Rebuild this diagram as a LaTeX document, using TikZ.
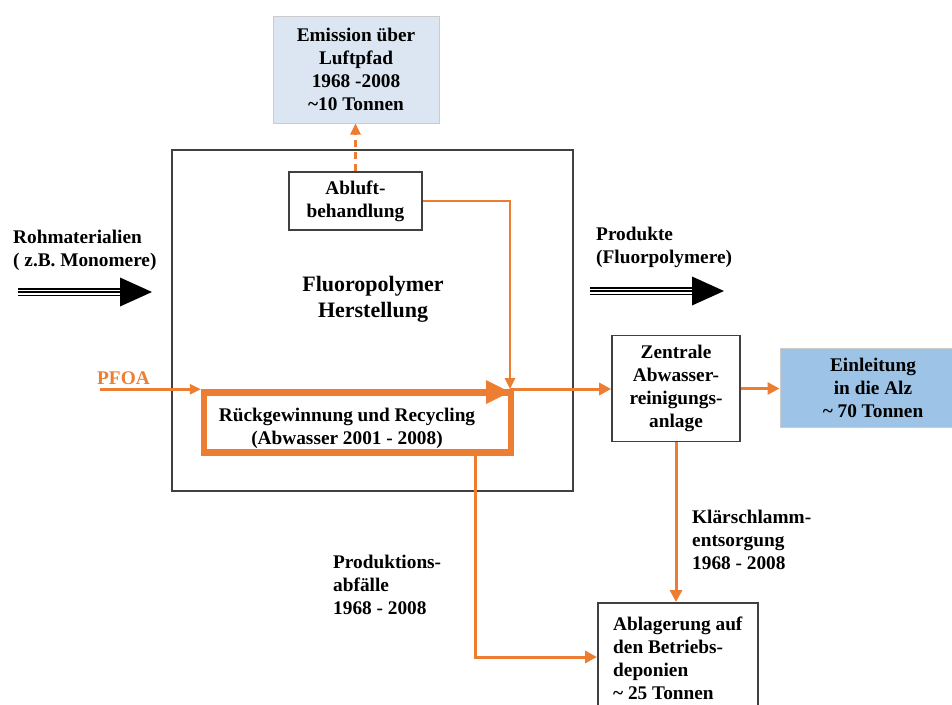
\documentclass[tikz,border=0pt]{standalone}
\usepackage{fontspec}
\setmainfont{Liberation Serif}
\usetikzlibrary{arrows.meta,calc}
\definecolor{oran}{HTML}{ED7D31}
\definecolor{lblue}{HTML}{DCE6F2}
\definecolor{mblue}{HTML}{9DC3E6}
\definecolor{bord}{HTML}{404040}
\tikzset{
  txt/.style={font=\fontsize{19.3}{23}\selectfont\bfseries, inner sep=0pt, align=center},
  bigtxt/.style={font=\fontsize{22}{26}\selectfont\bfseries, inner sep=0pt, align=center},
  box/.style={txt, draw=bord, line width=1.6pt, rectangle},
  lightbox/.style={txt, draw=gray!40, line width=1pt, rectangle},
  flow/.style={draw=oran, line width=3pt, -{Triangle[length=12pt,width=12pt]}},
  thinflow/.style={draw=oran, line width=2.5pt, -{Triangle[length=11pt,width=10pt]}},
  tripar/.pic={
    \draw[line width=1.8pt] (0,-3.4) -- (104,-3.4) (0,0) -- (104,0) (0,3.4) -- (104,3.4);
    \fill (102,-14.5) -- (134,0) -- (102,14.5) -- cycle;
  }
}
\begin{document}
\begin{tikzpicture}[x=1pt,y=-1pt]
\useasboundingbox (0,0) rectangle (952,704);
% boxes
\node[lightbox, fill=lblue, minimum width=166, minimum height=107] (emis) at (356,69.5)
  {Emission über\\Luftpfad\\1968 -2008\\\textasciitilde10 Tonnen};
\node[box, minimum width=401, minimum height=341] (main) at (372.5,320.5) {};
\node[box, fill=white, minimum width=133, minimum height=58] (abluft) at (355.5,201) {Abluft-\\behandlung};
\node[bigtxt] (fluoro) at (373,299) {Fluoropolymer\\Herstellung};
\node[draw=oran, line width=6.5pt, minimum width=307, minimum height=60, inner sep=0pt] (recyc) at (357.5,422.5) {};
\node[txt] (recyctext) at (347,428.5) {Rückgewinnung und Recycling\\(Abwasser 2001 - 2008)};
\node[box, minimum width=128, minimum height=106] (zentr) at (676,388.5) {Zentrale\\Abwasser-\\reinigungs-\\anlage};
\node[lightbox, fill=mblue, minimum width=186, minimum height=79] (einl) at (873,387.5)
  {Einleitung\\in die Alz\\\textasciitilde{} 70 Tonnen};
\node[box, minimum width=160, minimum height=110, align=left, anchor=north west] (ablag) at (597,602)
  {Ablagerung auf\\den Betriebs-\\deponien\\\textasciitilde{} 25 Tonnen};
% labels
\node[txt, anchor=west, align=left] (roh) at (13,250) {Rohmaterialien\\( z.B. Monomere)};
\node[txt, anchor=west, align=left] (prod) at (596,247) {Produkte\\(Fluorpolymere)};
\node[txt, anchor=west, text=oran] (pfoa) at (97,378) {PFOA};
\node[txt, anchor=west, align=left] (pabf) at (333,585) {Produktions-\\abfälle\\1968 - 2008};
\node[txt, anchor=west, align=left] (klaer) at (692,540) {Klärschlamm-\\entsorgung\\1968 - 2008};
% triple arrows
\pic at (18,292) {tripar};
\pic at (590,291) {tripar};
% orange flows
\coordinate (junc) at (510,389);
\coordinate (pfoax) at (100,0);
\coordinate (wcorner) at (475,657);
\draw[thinflow, dash pattern=on 7pt off 5pt] (abluft.north) -- (abluft.north |- emis.south);
\draw[thinflow] (abluft.east) -- (junc |- abluft.east) -- (junc);
\fill[oran] (486,380) -- (510,392) -- (486,404) -- cycle;
\draw[thinflow] (pfoax |- recyc.north west) -- (recyc.north west);
\draw[flow] (junc) -- (junc -| zentr.west);
\draw[flow] (zentr.east) -- (zentr.east -| einl.west);
\draw[flow] (zentr.south) -- (zentr.south |- ablag.north);
\draw[flow] (wcorner |- recyc.south) -- (wcorner) -- (wcorner -| ablag.west);
\end{tikzpicture}
\end{document}
